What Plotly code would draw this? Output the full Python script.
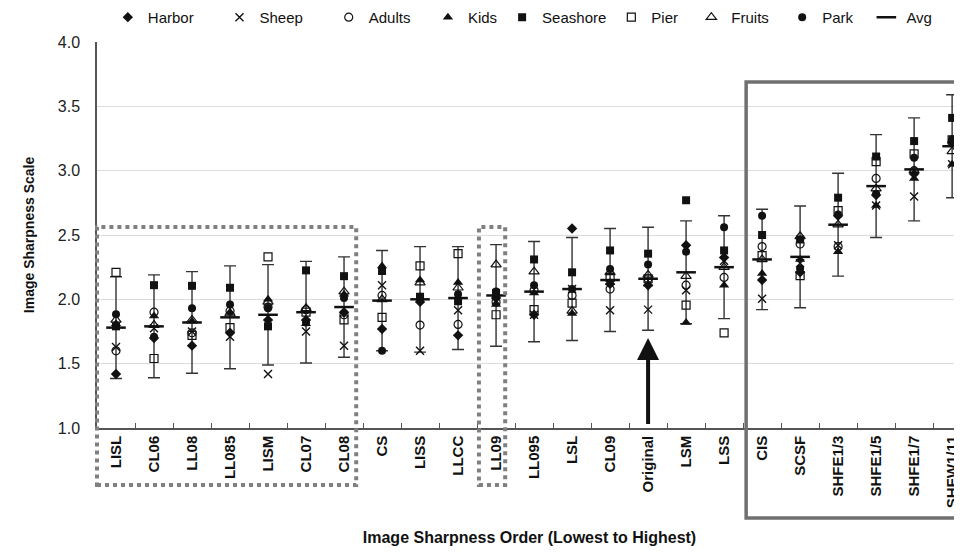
import plotly.graph_objects as go

categories = ["LISL", "CL06", "LL08", "LL085", "LISM", "CL07", "CL08", "CS", "LISS", "LLCC",
              "LL09", "LL095", "LSL", "CL09", "Original", "LSM", "LSS", "CIS", "SCSF",
              "SHFE1/3", "SHFE1/5", "SHFE1/7", "SHFW1/11"]

harbor   = [1.42, 1.70, 1.64, 1.74, 1.84, 1.84, 1.90, 1.77, 1.98, 1.72, 2.01, 1.88, 2.55, 2.12, 2.11, 2.42, 2.325, 2.15, 2.21, 2.65, 2.81, 2.975, 3.22]
sheep    = [1.63, 1.775, 1.75, 1.71, 1.42, 1.75, 1.64, 2.11, 1.60, 1.915, 1.99, 1.88, 2.08, 1.915, 1.92, 2.07, 2.30, 2.005, 2.28, 2.42, 2.73, 2.80, 3.05]
adults   = [1.60, 1.90, 1.74, 1.91, 1.94, 1.92, 1.88, 2.03, 1.80, 1.805, 1.98, 2.07, 2.03, 2.08, 2.16, 2.11, 2.17, 2.41, 2.43, 2.41, 2.94, 3.00, 3.22]
kids     = [1.81, 1.87, 1.83, 1.90, 2.00, 1.81, 2.04, 2.26, 2.15, 2.13, 1.96, 2.05, 1.89, 2.13, 2.12, 1.82, 2.11, 2.20, 2.31, 2.37, 2.73, 2.94, 3.05]
seashore = [1.79, 2.11, 2.105, 2.09, 1.79, 2.225, 2.18, 2.22, 2.02, 1.985, 2.05, 2.31, 2.21, 2.38, 2.355, 2.77, 2.38, 2.50, 2.465, 2.79, 3.11, 3.23, 3.41]
pier     = [2.21, 1.54, 1.72, 1.78, 2.33, 1.90, 1.84, 1.86, 2.26, 2.355, 1.88, 1.92, 1.97, 2.17, 2.16, 1.955, 1.74, 2.34, 2.185, 2.69, 3.07, 3.13, 3.24]
fruits   = [1.84, 1.80, 1.84, 1.89, 1.98, 1.93, 2.06, 2.00, 2.13, 2.09, 2.27, 2.215, 1.91, 2.21, 2.19, 2.18, 2.25, 2.31, 2.49, 2.58, 2.86, 3.00, 3.15]
park     = [1.885, 1.71, 1.93, 1.96, 1.93, 1.82, 2.01, 1.60, 2.02, 2.04, 2.06, 2.11, 2.08, 2.235, 2.27, 2.37, 2.56, 2.65, 2.24, 2.66, 2.82, 3.10, 3.245]
avg      = [1.78, 1.79, 1.82, 1.86, 1.88, 1.90, 1.94, 1.99, 2.00, 2.01, 2.03, 2.06, 2.08, 2.15, 2.16, 2.21, 2.25, 2.31, 2.33, 2.58, 2.88, 3.01, 3.19]
avg_err  = [0.395, 0.40, 0.395, 0.40, 0.39, 0.395, 0.39, 0.39, 0.41, 0.40, 0.395, 0.39, 0.40, 0.40, 0.40, 0.40, 0.40, 0.39, 0.395, 0.40, 0.40, 0.40, 0.40]

FONT = "Arial, Liberation Sans, sans-serif"
BLACK = "#111111"
NB = "\u00a0"

fig = go.Figure()

# Avg with error bars (drawn first so markers sit on top)
fig.add_trace(go.Scatter(
    x=categories, y=avg, name="Avg", mode="markers", legendrank=9,
    marker=dict(symbol="line-ew", size=14, color=BLACK, line=dict(color=BLACK, width=2.5)),
    error_y=dict(type="data", array=avg_err, visible=True, color="#333333", thickness=1.4, width=6),
))

# (name, values, marker, legend padding in spaces)
series = [
    ("Harbor", harbor, dict(symbol="diamond", size=8, color=BLACK), 5),
    ("Sheep", sheep, dict(symbol="x-thin", size=8, color=BLACK, line=dict(color=BLACK, width=1.4)), 5),
    ("Adults", adults, dict(symbol="circle-open", size=8, color=BLACK, line=dict(width=1.2)), 3),
    ("Kids", kids, dict(symbol="triangle-up", size=9, color=BLACK), 0),
    ("Seashore", seashore, dict(symbol="square", size=8, color=BLACK), 0),
    ("Pier", pier, dict(symbol="square-open", size=8, color=BLACK, line=dict(width=1.2)), 2),
    ("Fruits", fruits, dict(symbol="triangle-up-open", size=9, color=BLACK, line=dict(width=1.2)), 2),
    ("Park", park, dict(symbol="circle", size=8, color=BLACK), 2),
]
for i, (name, vals, mk, pad) in enumerate(series):
    fig.add_trace(go.Scatter(x=categories, y=vals, name=name + NB * pad, mode="markers",
                             marker=mk, legendrank=i + 1))

# page has an 8px body margin; figure sized to fit the 962x552 window
OFF = 8
W, H = 962 - OFF, 552 - OFF
L, R, T = 97 - OFF, 0, 42 - OFF
B = H - (428 - OFF)
pw, ph = W - L - R, H - T - B
X0, X1 = -0.5, 22.26


def px2paper_x(px):
    return (px - OFF - L) / pw


def py2paper_y(py):
    return (H - B - (py - OFF)) / ph


def idx2paper(i):
    return (i - X0) / (X1 - X0)


shapes = []
# dotted boxes (around LISL..CL08 and around LL09)
for (a, b) in [(-0.5, 6.32), (9.55, 10.24)]:
    shapes.append(dict(type="rect", xref="paper", yref="paper",
                       x0=idx2paper(a), x1=idx2paper(b),
                       y0=py2paper_y(485), y1=py2paper_y(227),
                       line=dict(color="#808080", width=4, dash="dot"), layer="above"))
# solid box (CIS..SHFW1/11)
shapes.append(dict(type="rect", xref="paper", yref="paper",
                   x0=idx2paper(16.58), x1=px2paper_x(960),
                   y0=py2paper_y(518), y1=py2paper_y(82),
                   line=dict(color="#707070", width=3.5), layer="above"))

fig.update_layout(
    width=W, height=H,
    margin=dict(l=L, r=R, t=T, b=B, pad=0, autoexpand=False),
    paper_bgcolor="white", plot_bgcolor="white",
    font=dict(family=FONT, color="#222222"),
    showlegend=True,
    legend=dict(orientation="h", x=0.0125, xanchor="left", y=1.021, yanchor="bottom",
                font=dict(size=15, family=FONT, color="#111111"),
                itemwidth=30, traceorder="normal",
                bgcolor="rgba(0,0,0,0)"),
    xaxis=dict(type="category", categoryorder="array", categoryarray=categories,
               range=[X0, X1], showgrid=False, showline=True, linecolor="#555555", linewidth=1.5,
               ticks="inside", ticklen=5, tickcolor="#555555", tickson="boundaries",
               tickangle=-90, tickfont=dict(size=15, family=FONT, color="#111111", weight="bold"),
               title=dict(text="<b>Image Sharpness Order (Lowest to Highest)</b>",
                          font=dict(size=16, family=FONT, color="#111111"), standoff=25),
               zeroline=False, fixedrange=True),
    yaxis=dict(range=[1, 4], dtick=0.5, tickformat=".1f", showgrid=True, gridcolor="#dcdcdc",
               gridwidth=1, showline=True, linecolor="#555555", linewidth=1.5, mirror=False,
               ticks="", ticklabelstandoff=12, tickfont=dict(size=16, family=FONT, color="#222222"),
               title=dict(text="<b>Image Sharpness Scale</b>",
                          font=dict(size=14, family=FONT, color="#111111"), standoff=20),
               zeroline=False, fixedrange=True),
    shapes=shapes,
    annotations=[dict(x="Original", y=1.70, xref="x", yref="y",
                      ax="Original", ay=1.02, axref="x", ayref="y",
                      showarrow=True, arrowhead=2, arrowsize=1.1, arrowwidth=4,
                      arrowcolor="#111111", text="")],
)

fig.write_html("out.html")
